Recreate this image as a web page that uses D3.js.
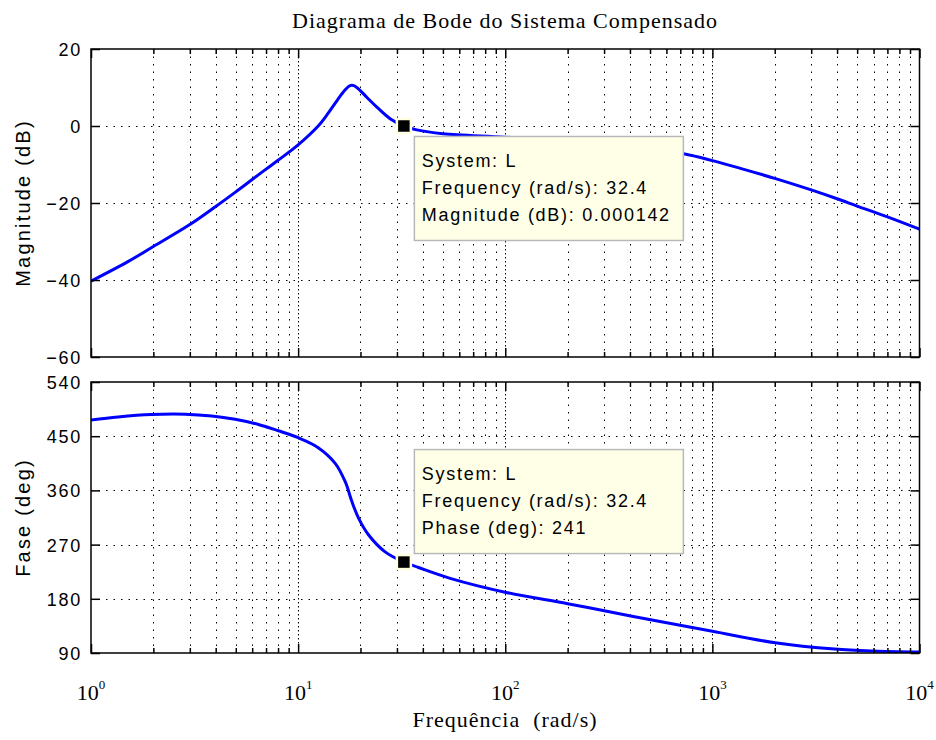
<!DOCTYPE html>
<html>
<head>
<meta charset="utf-8">
<script src="https://cdn.jsdelivr.net/npm/d3@7"></script>
<style>
  body { margin: 0; background: #fff; }
  svg { display: block; }
  .tick-label { font-family: "Liberation Sans", Arial, sans-serif; font-size: 18px; letter-spacing: 1.7px; fill: #000; }
  .axis-title { font-family: "Liberation Sans", Arial, sans-serif; font-size: 20px; letter-spacing: 2.2px; fill: #000; }
  .serif { font-family: "Liberation Serif", "Times New Roman", serif; fill: #000; }
  .tip-text { font-family: "Liberation Sans", Arial, sans-serif; font-size: 18px; letter-spacing: 1.7px; fill: #000; }
</style>
</head>
<body>
<svg id="chart" width="936" height="740"></svg>
<script>
// Frequency response of the compensated loop L(jw)
const magFreq = [1, 1.5, 2, 3, 4, 5, 6, 7, 8, 10, 12.5, 14, 15.5, 16.8, 17.8, 18.6, 19.5, 21.5, 24, 27.8, 32.4, 37.4, 50, 100, 200, 400, 726, 1000, 1365, 2000, 3000, 4000, 5000, 7000, 10000];
const magDb   = [-40.3, -35.3, -31.3, -25.6, -20.9, -17.1, -13.9, -11.2, -8.9, -4.9, 0.0, 3.4, 6.8, 9.3, 10.5, 10.5, 9.7, 7.4, 4.9, 1.9, 0.000142, -1.0, -2.0, -2.9, -4.0, -5.4, -7.2, -9.0, -11.0, -13.6, -16.6, -18.9, -20.8, -23.6, -26.8];

const phaseFreq = [1, 1.35, 1.96, 2.85, 3.83, 4.96, 6.43, 8.03, 10, 12.5, 15.1, 16.9, 18.2, 19.6, 21.9, 26.3, 32.4, 38.1, 54.2, 101, 203, 409, 1000, 2010, 3890, 6000, 10000];
const phaseDeg  = [477, 482, 486, 486.5, 483.5, 478, 469.5, 459, 447.5, 431, 405, 374, 341, 313.6, 286, 258, 241, 232, 214, 190.6, 171.5, 151, 126, 107, 96.5, 93.2, 91.5];

// Axis ticks and labels
const decadeTicks = [1, 10, 100, 1000, 10000];
const decadeExponents = ["0", "1", "2", "3", "4"];
const magTicks = [-60, -40, -20, 0, 20];
const phaseTicks = [90, 180, 270, 360, 450, 540];

// Data tip at the gain crossover
const tipFreq = 32.4;
const tipMag = 0.000142;
const tipPhase = 241;
const tipMagLines = ["System: L", "Frequency (rad/s): 32.4", "Magnitude (dB): 0.000142"];
const tipPhaseLines = ["System: L", "Frequency (rad/s): 32.4", "Phase (deg): 241"];

const titleText = "Diagrama de Bode do Sistema Compensado";
const xTitle = "Frequência  (rad/s)";
const magTitle = "Magnitude (dB)";
const phaseTitle = "Fase (deg)";

const svg = d3.select("#chart");
const left = 91, right = 919.5;

const x = d3.scaleLog().domain([1, 1e4]).range([left, right]);
const yMag = d3.scaleLinear().domain([-60, 20]).range([357, 49]);
const yPhase = d3.scaleLinear().domain([90, 540]).range([653, 382]);

const minorFreqs = [];
decadeTicks.slice(0, -1).forEach(d => { for (let k = 2; k <= 9; k++) minorFreqs.push(d * k); });

function panel(y, yTicks, freqs, vals, id) {
  const top = y.range()[1], bottom = y.range()[0];
  const g = svg.append("g");

  g.append("clipPath").attr("id", id).append("rect")
    .attr("x", left).attr("y", top).attr("width", right - left).attr("height", bottom - top);

  // grid
  const grid = g.append("g").attr("stroke", "#000").attr("stroke-width", 1);
  grid.selectAll("line.minor").data(minorFreqs).join("line")
    .attr("x1", d => Math.round(x(d)) + 0.5).attr("x2", d => Math.round(x(d)) + 0.5)
    .attr("y1", top).attr("y2", bottom)
    .attr("stroke-dasharray", "1.5,6");
  grid.selectAll("line.major").data(decadeTicks.slice(1, -1)).join("line")
    .attr("x1", d => Math.round(x(d)) + 0.5).attr("x2", d => Math.round(x(d)) + 0.5)
    .attr("y1", top).attr("y2", bottom)
    .attr("stroke-dasharray", "1.5,2.5");
  grid.selectAll("line.h").data(yTicks.slice(1, -1)).join("line")
    .attr("x1", left).attr("x2", right)
    .attr("y1", d => Math.round(y(d)) + 0.5).attr("y2", d => Math.round(y(d)) + 0.5)
    .attr("stroke-dasharray", "1.5,6");

  // curve
  const line = d3.line().x(d => x(d[0])).y(d => y(d[1])).curve(d3.curveCatmullRom.alpha(0.5));
  g.append("path")
    .datum(freqs.map((f, i) => [f, vals[i]]))
    .attr("clip-path", `url(#${id})`)
    .attr("fill", "none").attr("stroke", "#0000ff").attr("stroke-width", 3)
    .attr("stroke-linejoin", "round")
    .attr("d", line);

  // inside ticks on all four sides
  const axes = g.append("g");
  const yl = axes.append("g").attr("transform", `translate(${left},0)`)
    .call(d3.axisLeft(y).tickValues(yTicks).tickSize(-9).tickSizeOuter(0).tickPadding(9));
  axes.append("g").attr("transform", `translate(${right},0)`)
    .call(d3.axisRight(y).tickValues(yTicks).tickSize(-9).tickSizeOuter(0).tickFormat(""));
  [top, bottom].forEach((yy, i) => {
    const maker = i === 0 ? d3.axisTop : d3.axisBottom;
    axes.append("g").attr("transform", `translate(0,${yy})`)
      .call(maker(x).tickValues(decadeTicks).tickSize(-9).tickSizeOuter(0).tickFormat(""));
    axes.append("g").attr("transform", `translate(0,${yy})`)
      .call(maker(x).tickValues(minorFreqs).tickSize(-5).tickSizeOuter(0).tickFormat(""));
  });
  axes.selectAll(".domain").remove();
  axes.selectAll(".tick line").attr("stroke", "#000").attr("stroke-width", 1.5);
  yl.selectAll(".tick text").attr("class", "tick-label").attr("x", -9).attr("dy", "0.36em");

  g.append("rect").attr("x", left).attr("y", top)
    .attr("width", right - left).attr("height", bottom - top)
    .attr("fill", "none").attr("stroke", "#000").attr("stroke-width", 1.5);
  return g;
}

panel(yMag, magTicks, magFreq, magDb, "clip-mag");
panel(yPhase, phaseTicks, phaseFreq, phaseDeg, "clip-phase");

// decade labels 10^n under the phase plot
const xl = svg.append("g").attr("class", "serif");
decadeTicks.forEach((d, i) => {
  const t = xl.append("text").attr("x", x(d)).attr("y", 700)
    .attr("text-anchor", "middle").style("font-size", "22px");
  t.append("tspan").text("10");
  t.append("tspan").attr("dy", -11).style("font-size", "13px").text(decadeExponents[i]);
});

// titles
svg.append("text").attr("class", "serif").attr("x", 505).attr("y", 28)
  .attr("text-anchor", "middle").style("font-size", "22px").style("letter-spacing", "1px")
  .text(titleText);
svg.append("text").attr("class", "serif").attr("x", 505).attr("y", 727)
  .attr("text-anchor", "middle").style("font-size", "22px").style("letter-spacing", "1px")
  .style("white-space", "pre").text(xTitle);
svg.append("text").attr("class", "axis-title")
  .attr("transform", `translate(30,${(yMag.range()[0] + yMag.range()[1]) / 2}) rotate(-90)`)
  .attr("text-anchor", "middle").text(magTitle);
svg.append("text").attr("class", "axis-title")
  .attr("transform", `translate(30,${(yPhase.range()[0] + yPhase.range()[1]) / 2}) rotate(-90)`)
  .attr("text-anchor", "middle").text(phaseTitle);

// data tips
function dataTip(y, value, lines, below) {
  const mx = x(tipFreq), my = y(value);
  const w = 269, h = 104;
  const bx = mx + 10;
  const by = below ? my + 10 : my - 9 - h;
  const g = svg.append("g");
  g.append("rect").attr("x", bx + 0.5).attr("y", by + 0.5).attr("width", w).attr("height", h)
    .attr("fill", "#ffffe8").attr("stroke", "#b8b8b8").attr("stroke-width", 1.5);
  g.selectAll("text").data(lines).join("text").attr("class", "tip-text")
    .attr("x", bx + 8).attr("y", (d, i) => by + 31 + i * 27).text(d => d);
  g.append("rect").attr("x", mx - 7).attr("y", my - 7).attr("width", 14).attr("height", 14)
    .attr("fill", "#000").attr("stroke", "#ffffe0").attr("stroke-width", 2.5);
}
dataTip(yMag, tipMag, tipMagLines, true);
dataTip(yPhase, tipPhase, tipPhaseLines, false);
</script>
</body>
</html>
